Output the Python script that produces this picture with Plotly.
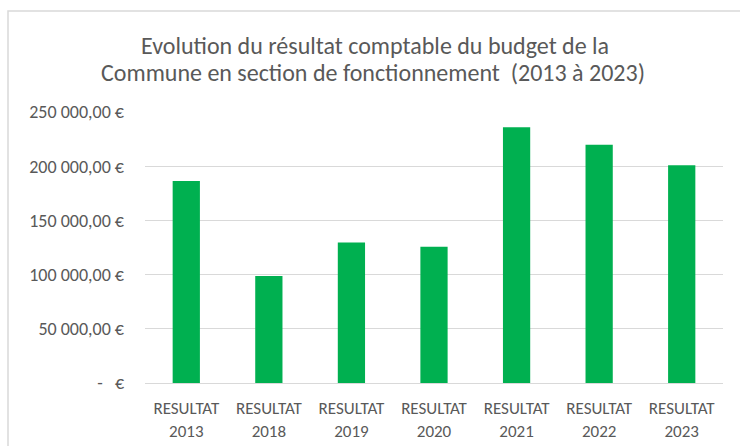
import plotly.graph_objects as go

categories = ["RESULTAT<br>2013", "RESULTAT<br>2018", "RESULTAT<br>2019", "RESULTAT<br>2020",
              "RESULTAT<br>2021", "RESULTAT<br>2022", "RESULTAT<br>2023"]
values = [186300, 98700, 129500, 125800, 236000, 219800, 200800]
tick_values = [0, 50000, 100000, 150000, 200000, 250000]
tick_labels = ["-\u00a0\u00a0\u00a0€", "50\u00a0000,00\u00a0€", "100\u00a0000,00\u00a0€",
               "150\u00a0000,00\u00a0€", "200\u00a0000,00\u00a0€", "250\u00a0000,00\u00a0€"]
title_lines = ["Evolution du résultat comptable du budget de la",
               "Commune en section de fonctionnement  (2013 à 2023)"]

FONT = "Carlito, Lato, 'Open Sans', sans-serif"
GREY = "#595959"

fig = go.Figure(go.Bar(x=categories, y=values, marker_color="#00B050",
                       marker_line_width=0, width=0.33))

L, R, T, B = 145, 17, 112, 63
W, H = 740, 446
pw, ph = W - L - R, H - T - B

def px_x(p):
    return (p - L) / pw

def px_y(p):
    return (H - B - p) / ph

annotations = [
    dict(text=title_lines[0], xref="paper", yref="paper", x=px_x(375), y=px_y(45),
         xanchor="center", yanchor="middle", showarrow=False,
         font=dict(family=FONT, size=24, color=GREY)),
    dict(text=title_lines[1], xref="paper", yref="paper", x=px_x(373), y=px_y(73),
         xanchor="center", yanchor="middle", showarrow=False,
         font=dict(family=FONT, size=24, color=GREY)),
]

fig.update_layout(
    width=W, height=H,
    margin=dict(l=L, r=R, t=T, b=B, autoexpand=False),
    paper_bgcolor="white", plot_bgcolor="white",
    font=dict(family=FONT, color=GREY, size=17),
    showlegend=False,
    bargap=0.6,
    annotations=annotations,
    xaxis=dict(showgrid=False, showline=True, linecolor="#d9d9d9", linewidth=1,
               tickfont=dict(size=17, color=GREY), ticks="", automargin=False,
               ticklabelstandoff=10),
    yaxis=dict(range=[0, 250000], tickvals=tick_values, ticktext=tick_labels,
               showgrid=True, gridcolor="#d9d9d9", gridwidth=1, zeroline=False,
               showline=False, ticklabelstandoff=20, automargin=False,
               tickfont=dict(size=18, color=GREY)),
    shapes=[dict(type="rect", xref="paper", yref="paper",
                 x0=px_x(8), x1=px_x(760), y0=px_y(470), y1=px_y(11),
                 line=dict(color="#d9d9d9", width=1.5), fillcolor="rgba(0,0,0,0)",
                 layer="below")],
)

fig.write_html("out.html", config={"displayModeBar": False},
               post_script="document.body.style.margin='0';document.body.style.overflow='hidden';")
